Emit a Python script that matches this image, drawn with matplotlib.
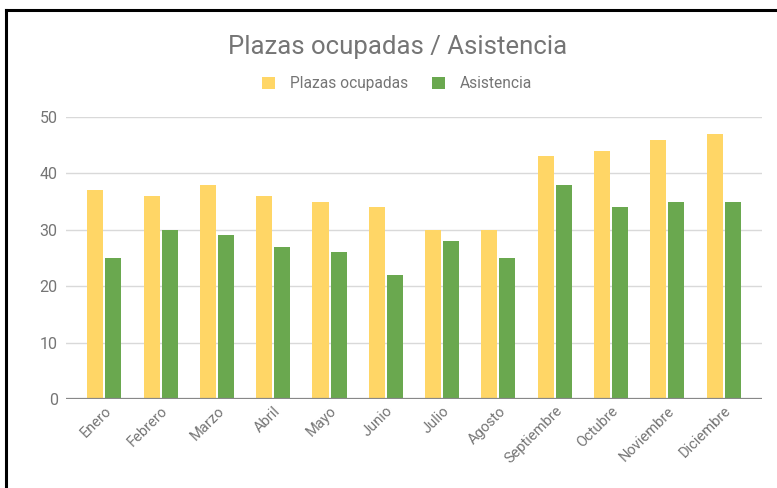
import numpy as np
import matplotlib
matplotlib.use('Agg')
from matplotlib import pyplot as plt
from matplotlib.lines import Line2D

meses = ['Enero', 'Febrero', 'Marzo', 'Abril', 'Mayo', 'Junio', 'Julio',
         'Agosto', 'Septiembre', 'Octubre', 'Noviembre', 'Diciembre']
plazas = [37, 36, 38, 36, 35, 34, 30, 30, 43, 44, 46, 47]
asistencia = [25, 30, 29, 27, 26, 22, 28, 25, 38, 34, 35, 35]
yticks = [0, 10, 20, 30, 40, 50]

plt.rcParams['font.family'] = ['Roboto', 'DejaVu Sans']
gris = '#757575'

fig = plt.figure(figsize=(7.77, 4.88), dpi=100)
ax = fig.add_axes([0.0849, 0.1824, 0.8958, 0.5778])

x = np.arange(len(meses))
w = 0.285
ax.bar(x - 0.16, plazas, width=w, color='#ffd666', label='Plazas ocupadas', zorder=3)
ax.bar(x + 0.16, asistencia, width=w, color='#6aa84f', label='Asistencia', zorder=3)

ax.set_xlim(-0.68, len(meses) - 1 + 0.68)
ax.set_ylim(0, 50)
ax.set_yticks(yticks)
ax.yaxis.grid(True, color='#d9d9d9', linewidth=1, zorder=0)
ax.axhline(0, color='#888888', linewidth=1.6, zorder=4)
for s in ax.spines.values():
    s.set_visible(False)
ax.tick_params(axis='both', length=0, labelcolor=gris)
ax.tick_params(axis='y', labelsize=11.5, pad=6)
ax.tick_params(axis='x', labelsize=10.5)
ax.set_xticks(x)
ax.set_xticklabels(meses, rotation=45, ha='right', rotation_mode='anchor')

fig.text(0.512, 0.904, 'Plazas ocupadas / Asistencia', ha='center', va='center',
         fontsize=18.5, color=gris)
fig.legend(loc='center', bbox_to_anchor=(0.511, 0.828), ncol=2, frameon=False,
           fontsize=11.2, labelcolor=gris, handlelength=0.85, handleheight=0.85,
           handletextpad=0.95, columnspacing=1.5)

# marco negro del recorte
fig.add_artist(Line2D([0.0077, 0.0077], [0, 0.979], color='black', linewidth=2.2))
fig.add_artist(Line2D([0.0077, 1.0], [0.979, 0.979], color='black', linewidth=2.2))

plt.savefig('out.png', dpi=100)
plt.close(fig)
